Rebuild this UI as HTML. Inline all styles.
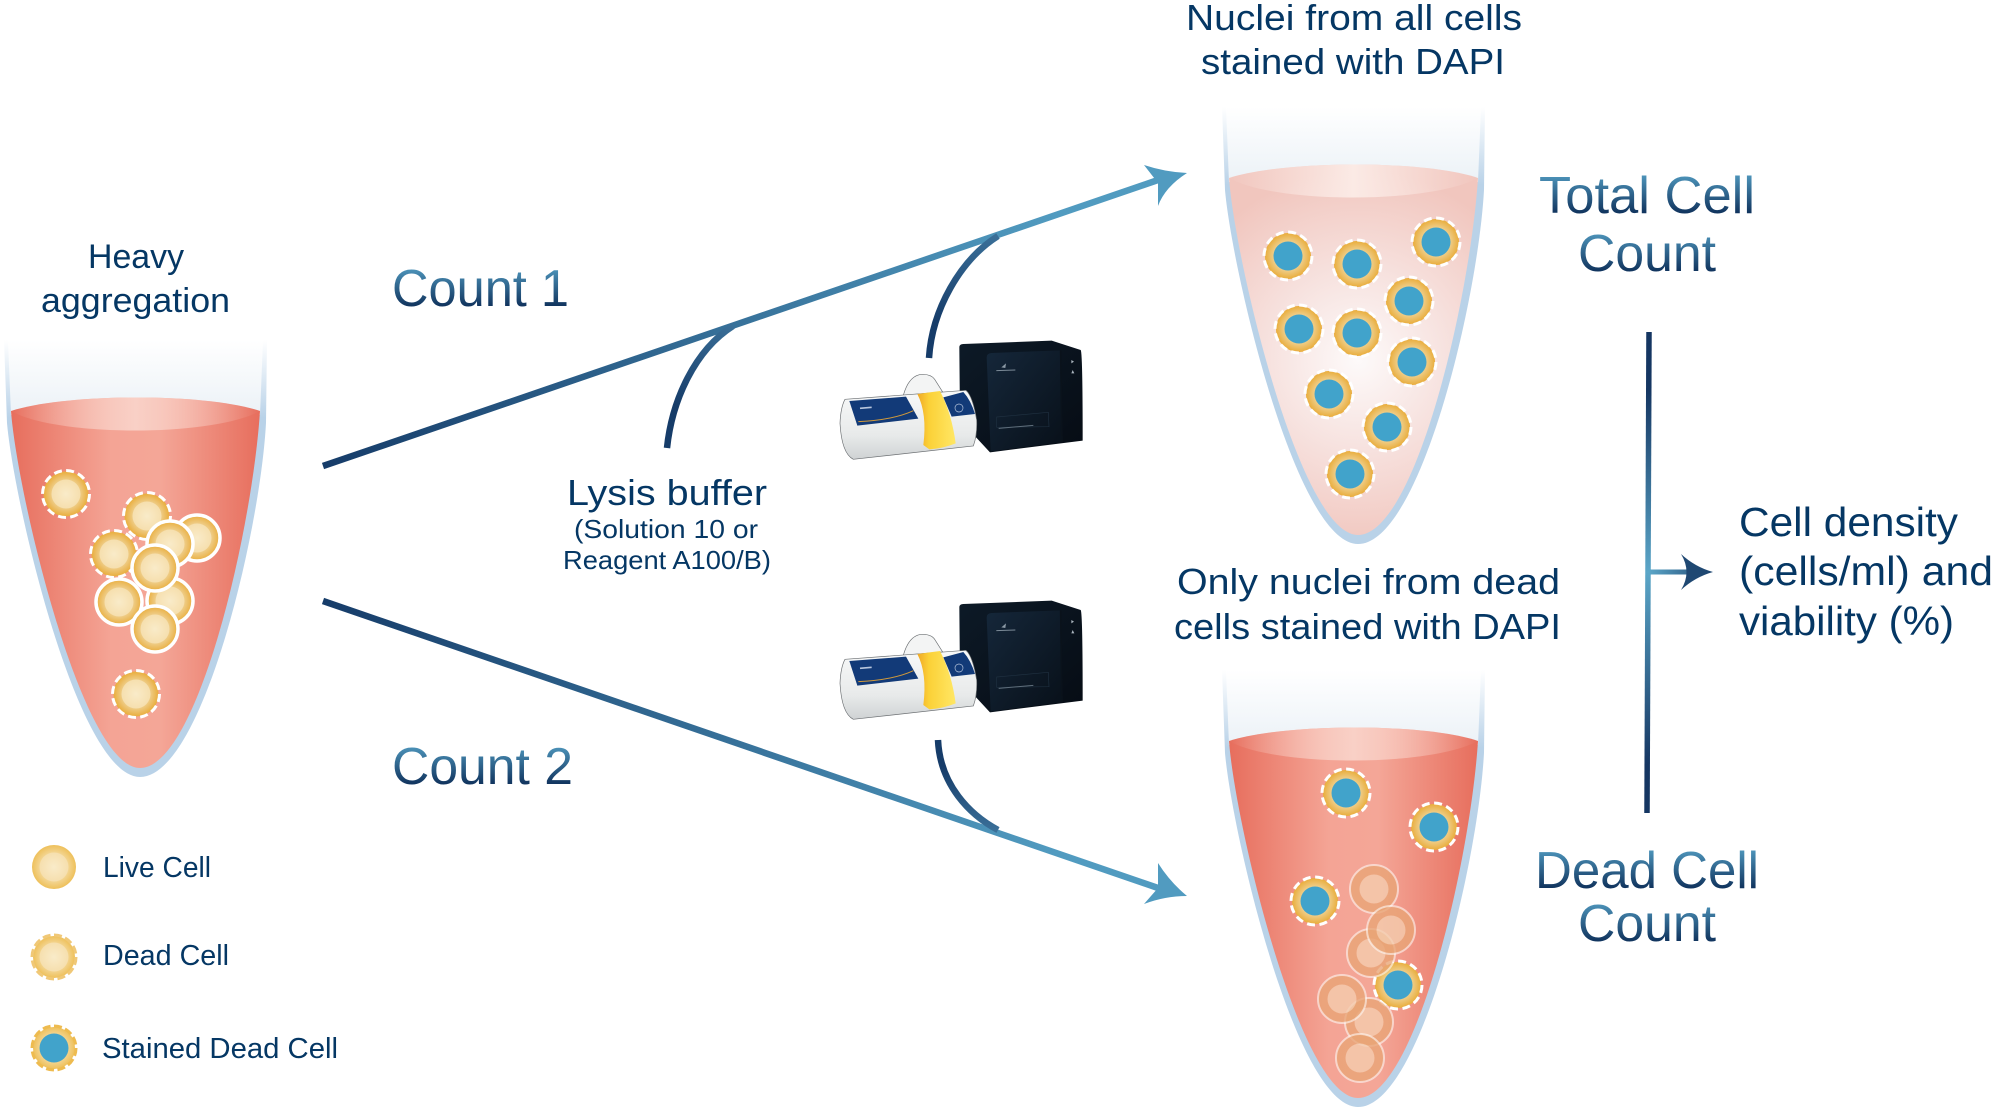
<!DOCTYPE html>
<html><head><meta charset="utf-8"><style>
html,body{margin:0;padding:0;background:#fff}
svg{display:block}
text{font-family:"Liberation Sans",sans-serif;fill:#053764}
.t{fill:url(#tg);font-size:52px}
</style></head><body>
<svg width="1993" height="1107" viewBox="0 0 1993 1107" xmlns="http://www.w3.org/2000/svg">
<defs>
<linearGradient id="tg" x1="0" y1="0" x2="0" y2="1"><stop offset=".12" stop-color="#4f97bd"/><stop offset=".78" stop-color="#123660"/></linearGradient>
<linearGradient id="wall" x1="0" y1="107" x2="0" y2="185" gradientUnits="userSpaceOnUse"><stop offset="0" stop-color="#fff"/><stop offset="1" stop-color="#b9d2e8"/></linearGradient>
<linearGradient id="air" x1="0" y1="107" x2="0" y2="180" gradientUnits="userSpaceOnUse"><stop offset="0" stop-color="#fff"/><stop offset="1" stop-color="#ecf2f7"/></linearGradient>
<linearGradient id="liq" x1="1229" y1="0" x2="1478" y2="0" gradientUnits="userSpaceOnUse"><stop offset="0" stop-color="#e76e5d"/><stop offset=".4" stop-color="#f4a495"/><stop offset=".6" stop-color="#f4a697"/><stop offset="1" stop-color="#e76e5d"/></linearGradient>
<radialGradient id="liqp" cx="1358" cy="360" r="190" gradientUnits="userSpaceOnUse"><stop offset="0" stop-color="#fdfafa"/><stop offset=".45" stop-color="#f7e3e0"/><stop offset="1" stop-color="#f1c6be"/></radialGradient>
<linearGradient id="hl" x1="1229" y1="0" x2="1478" y2="0" gradientUnits="userSpaceOnUse"><stop offset="0" stop-color="#f9d4cb" stop-opacity="0"/><stop offset=".5" stop-color="#f9d0c6"/><stop offset="1" stop-color="#f9d4cb" stop-opacity="0"/></linearGradient>
<linearGradient id="hlp" x1="1229" y1="0" x2="1478" y2="0" gradientUnits="userSpaceOnUse"><stop offset="0" stop-color="#fbeae5" stop-opacity="0"/><stop offset=".5" stop-color="#fbeae5"/><stop offset="1" stop-color="#fbeae5" stop-opacity="0"/></linearGradient>
<radialGradient id="ring"><stop offset=".6" stop-color="#efcf8d"/><stop offset="1" stop-color="#e9ad3c"/></radialGradient>
<radialGradient id="ringl"><stop offset=".6" stop-color="#f4d89a"/><stop offset="1" stop-color="#eec05a"/></radialGradient>
<radialGradient id="core"><stop offset="0" stop-color="#f9ebc9"/><stop offset="1" stop-color="#f6dfae"/></radialGradient>
<linearGradient id="a1" x1="323" y1="466" x2="1187" y2="173" gradientUnits="userSpaceOnUse"><stop offset="0" stop-color="#163c69"/><stop offset=".85" stop-color="#519bc0"/></linearGradient>
<linearGradient id="a2" x1="323" y1="601" x2="1187" y2="896" gradientUnits="userSpaceOnUse"><stop offset="0" stop-color="#163c69"/><stop offset=".85" stop-color="#519bc0"/></linearGradient>
<linearGradient id="c1" x1="667" y1="448" x2="733" y2="326" gradientUnits="userSpaceOnUse"><stop offset=".3" stop-color="#163c69"/><stop offset="1" stop-color="#3a6f98"/></linearGradient>
<linearGradient id="c2" x1="0" y1="358" x2="0" y2="236" gradientUnits="userSpaceOnUse"><stop offset=".3" stop-color="#163c69"/><stop offset="1" stop-color="#3a6f98"/></linearGradient>
<linearGradient id="c3" x1="0" y1="740" x2="0" y2="830" gradientUnits="userSpaceOnUse"><stop offset=".3" stop-color="#163c69"/><stop offset="1" stop-color="#3a6f98"/></linearGradient>
<linearGradient id="vl" x1="0" y1="332" x2="0" y2="813" gradientUnits="userSpaceOnUse"><stop offset=".12" stop-color="#153662"/><stop offset=".5" stop-color="#5ba6c8"/><stop offset=".9" stop-color="#153662"/></linearGradient>
<linearGradient id="ha" x1="1649" y1="0" x2="1713" y2="0" gradientUnits="userSpaceOnUse"><stop offset="0" stop-color="#5ba6c8"/><stop offset="1" stop-color="#1d446f"/></linearGradient>
<linearGradient id="box" x1="0" y1="0" x2="1" y2="1"><stop offset="0" stop-color="#0d1a27"/><stop offset="1" stop-color="#060c14"/></linearGradient>
<linearGradient id="pan" x1="0" y1="0" x2="1" y2="1"><stop offset="0" stop-color="#15273a"/><stop offset="1" stop-color="#081019"/></linearGradient>
<linearGradient id="bod" x1="0" y1="0" x2="0" y2="1"><stop offset="0" stop-color="#f8f9f9"/><stop offset=".65" stop-color="#e8eaea"/><stop offset="1" stop-color="#cfd2d4"/></linearGradient>
<linearGradient id="yel" x1="0" y1="0" x2="1" y2="0"><stop offset="0" stop-color="#f0a825"/><stop offset=".3" stop-color="#fbd137"/><stop offset="1" stop-color="#ffe765"/></linearGradient>

<g id="tube">
<path d="M1222,107 L1225,190 C1232,270 1296,544 1358,544 C1420,544 1478,300 1484,190 L1485,107 Z" fill="url(#wall)"/>
<path d="M1226,107 L1229,182 L1478,182 L1481,107 Z" fill="url(#air)"/>
</g>
<g id="instr" transform="translate(800,320) scale(.33333)">
<path d="M478,82 Q478,72 490,72 L755,62 L842,90 Q848,94 848,362 L570,397 L480,300 Z" fill="url(#box)"/>
<path d="M560,112 Q560,100 575,99 L782,91 L786,366 L572,394 Z" fill="url(#pan)"/>
<path d="M782,91 L786,366" stroke="#0a121b" stroke-width="5" fill="none"/>
<path d="M590,291 L745,277 L747,320 L590,322 Z" fill="none" stroke="#1f3040" stroke-width="2"/>
<path d="M596,325 L700,316" stroke="#5f6e7b" stroke-width="3"/>
<path d="M589,152 L646,150" stroke="#7b8a97" stroke-width="3"/>
<path d="M604,142 L618,130 L616,144 Z" fill="#8b99a5"/>
<path d="M814,120 L822,125 L814,130 Z" fill="#a9b4bd"/><path d="M814,160 L818,150 L823,160 Z" fill="#a9b4bd"/>
<path d="M310,226 Q325,172 358,164 Q392,160 404,178 L428,216 Z" fill="#f3f4f4" stroke="#6b6f72" stroke-width="2"/>
<path d="M135,238 L498,211 Q518,228 530,300 Q532,345 520,378 L160,418 Q125,400 120,310 Q122,262 135,238 Z" fill="url(#bod)" stroke="#6b6f72" stroke-width="2"/>
<path d="M148,243 L318,230 L355,296 L172,317 Z" fill="#123a78"/>
<path d="M175,305 Q280,300 340,272" stroke="#d29a3a" stroke-width="3" fill="none"/>
<path d="M180,265 L215,262" stroke="#b7c5dc" stroke-width="5"/>
<path d="M430,232 L490,216 Q512,240 525,282 L455,290 Z" fill="#123a78"/>
<circle cx="477" cy="264" r="12" fill="none" stroke="#b7c5dc" stroke-width="2"/>
<path d="M352,222 L420,213 Q455,280 467,370 Q430,385 388,388 L370,375 Q382,280 352,222 Z" fill="url(#yel)"/>
</g>
<g id="st"><circle r="23" fill="url(#ring)"/><circle r="14.5" fill="#41a3cb"/><circle r="24" fill="none" stroke="#fff" stroke-width="3" stroke-dasharray="8 4.56"/></g>
<g id="fd" opacity=".78"><circle r="24" fill="#e9a576" stroke="#fff" stroke-opacity=".7" stroke-width="2"/><circle r="14.5" fill="#f4cdae"/></g>
<g id="dd"><circle r="22.5" fill="url(#ring)"/><circle r="14.5" fill="url(#core)"/><circle r="23.5" fill="none" stroke="#fff" stroke-width="3" stroke-dasharray="8 4.3"/></g>
<g id="lv"><circle r="23" fill="url(#ring)" stroke="#fff" stroke-width="3.5"/><circle r="14.5" fill="url(#core)"/></g>
<path id="liqp1" d="M1229,178 C1285,160 1425,160 1478,178 C1470,300 1415,535 1358,535 C1300,535 1235,260 1229,178 Z"/>
<path id="hlp1" d="M1229,178 C1285,160 1425,160 1478,178 C1430,204 1275,204 1229,178 Z"/>
</defs>

<!-- Left tube -->
<g transform="translate(-1218,233)">
<use href="#tube"/>
<use href="#liqp1" fill="url(#liq)"/>
<use href="#hlp1" fill="url(#hl)"/>
</g>
<use href="#dd" x="66" y="494"/><use href="#dd" x="147" y="516"/><use href="#dd" x="114" y="554"/><use href="#dd" x="136" y="694"/>
<use href="#lv" x="197" y="538"/><use href="#lv" x="170" y="544"/><use href="#lv" x="170" y="601"/><use href="#lv" x="155" y="568"/><use href="#lv" x="119" y="602"/><use href="#lv" x="155" y="629"/>

<!-- Top right tube -->
<use href="#tube"/>
<use href="#liqp1" fill="url(#liqp)"/>
<use href="#hlp1" fill="url(#hlp)"/>
<use href="#st" x="1288" y="256"/><use href="#st" x="1357" y="264"/><use href="#st" x="1436" y="242"/><use href="#st" x="1409" y="301"/><use href="#st" x="1299" y="329"/><use href="#st" x="1357" y="333"/><use href="#st" x="1412" y="362"/><use href="#st" x="1329" y="394"/><use href="#st" x="1387" y="427"/><use href="#st" x="1350" y="474"/>

<!-- Bottom right tube -->
<g transform="translate(0,563)">
<use href="#tube"/>
<use href="#liqp1" fill="url(#liq)"/>
<use href="#hlp1" fill="url(#hl)"/>
</g>
<use href="#st" x="1346" y="793"/><use href="#st" x="1434" y="827"/><use href="#st" x="1315" y="901"/><use href="#st" x="1398" y="985"/>
<use href="#fd" x="1374" y="889"/><use href="#fd" x="1371" y="953"/><use href="#fd" x="1391" y="930"/><use href="#fd" x="1369" y="1022"/><use href="#fd" x="1342" y="999"/><use href="#fd" x="1360" y="1058"/>

<!-- Arrows -->
<path d="M323,466 L1158,180" stroke="url(#a1)" stroke-width="6.5" fill="none"/>
<path d="M1144,165 Q1165,172 1187,173 Q1165,187 1158,206 L1158,183 Z" fill="#519bc0"/>
<path d="M323,601 L1158,888" stroke="url(#a2)" stroke-width="6.5" fill="none"/>
<path d="M1158,863 Q1170,882 1187,896 Q1165,896 1144,904 L1158,888 Z" fill="#519bc0"/>
<path d="M667,448 C672,400 695,350 733,326" stroke="url(#c1)" stroke-width="6.5" fill="none"/>
<path d="M929,358 C932,310 960,260 998,236" stroke="url(#c2)" stroke-width="6.5" fill="none"/>
<path d="M938,740 C940,785 970,815 998,830" stroke="url(#c3)" stroke-width="6.5" fill="none"/>
<path d="M1649,332 L1647,813" stroke="url(#vl)" stroke-width="5.5" fill="none"/>
<path d="M1649,572 L1692,572" stroke="url(#ha)" stroke-width="5" fill="none"/>
<path d="M1681,554 Q1695,567 1713,572 Q1695,577 1681,590 Q1692,572 1681,554 Z" fill="#1f4872"/>

<use href="#instr"/>
<use href="#instr" y="260"/>

<!-- Legend -->
<circle cx="54" cy="867" r="22" fill="url(#ringl)"/><circle cx="54" cy="867" r="14.5" fill="url(#core)"/>
<circle cx="54" cy="957" r="21" fill="url(#ringl)"/><circle cx="54" cy="957" r="22" fill="none" stroke="#f0c877" stroke-width="3" stroke-dasharray="8 3.5"/><circle cx="54" cy="957" r="14.5" fill="url(#core)"/>
<circle cx="54" cy="1048" r="21" fill="url(#ringl)"/><circle cx="54" cy="1048" r="22" fill="none" stroke="#eebb4f" stroke-width="3" stroke-dasharray="8 3.5"/><circle cx="54" cy="1048" r="14.5" fill="#41a3cb"/>

<!-- Text -->
<text x="88" y="268" font-size="34" textLength="96" lengthAdjust="spacingAndGlyphs">Heavy</text>
<text x="41" y="312" font-size="34" textLength="189" lengthAdjust="spacingAndGlyphs">aggregation</text>
<text x="103" y="877" font-size="29" textLength="108" lengthAdjust="spacingAndGlyphs">Live Cell</text>
<text x="103" y="965" font-size="29" textLength="126" lengthAdjust="spacingAndGlyphs">Dead Cell</text>
<text x="102" y="1058" font-size="29" textLength="236" lengthAdjust="spacingAndGlyphs">Stained Dead Cell</text>
<text class="t" x="392" y="306" textLength="177" lengthAdjust="spacingAndGlyphs">Count 1</text>
<text class="t" x="392" y="784" textLength="181" lengthAdjust="spacingAndGlyphs">Count 2</text>
<text x="567" y="505" font-size="36" textLength="200" lengthAdjust="spacingAndGlyphs">Lysis buffer</text>
<text x="574" y="538" font-size="26" textLength="184" lengthAdjust="spacingAndGlyphs">(Solution 10 or</text>
<text x="563" y="569" font-size="26" textLength="208" lengthAdjust="spacingAndGlyphs">Reagent A100/B)</text>
<text x="1186" y="30" font-size="36" textLength="336" lengthAdjust="spacingAndGlyphs">Nuclei from all cells</text>
<text x="1201" y="74" font-size="36" textLength="304" lengthAdjust="spacingAndGlyphs">stained with DAPI</text>
<text x="1177" y="594" font-size="36" textLength="383" lengthAdjust="spacingAndGlyphs">Only nuclei from dead</text>
<text x="1174" y="639" font-size="36" textLength="387" lengthAdjust="spacingAndGlyphs">cells stained with DAPI</text>
<text class="t" x="1539" y="213" textLength="216" lengthAdjust="spacingAndGlyphs">Total Cell</text>
<text class="t" x="1578" y="271" textLength="138" lengthAdjust="spacingAndGlyphs">Count</text>
<text class="t" x="1535" y="888" textLength="224" lengthAdjust="spacingAndGlyphs">Dead Cell</text>
<text class="t" x="1578" y="941" textLength="138" lengthAdjust="spacingAndGlyphs">Count</text>
<text x="1739" y="536" font-size="41" textLength="219" lengthAdjust="spacingAndGlyphs">Cell density</text>
<text x="1739" y="585" font-size="41" textLength="254" lengthAdjust="spacingAndGlyphs">(cells/ml) and</text>
<text x="1739" y="635" font-size="41" textLength="215" lengthAdjust="spacingAndGlyphs">viability (%)</text>
</svg>
</body></html>
